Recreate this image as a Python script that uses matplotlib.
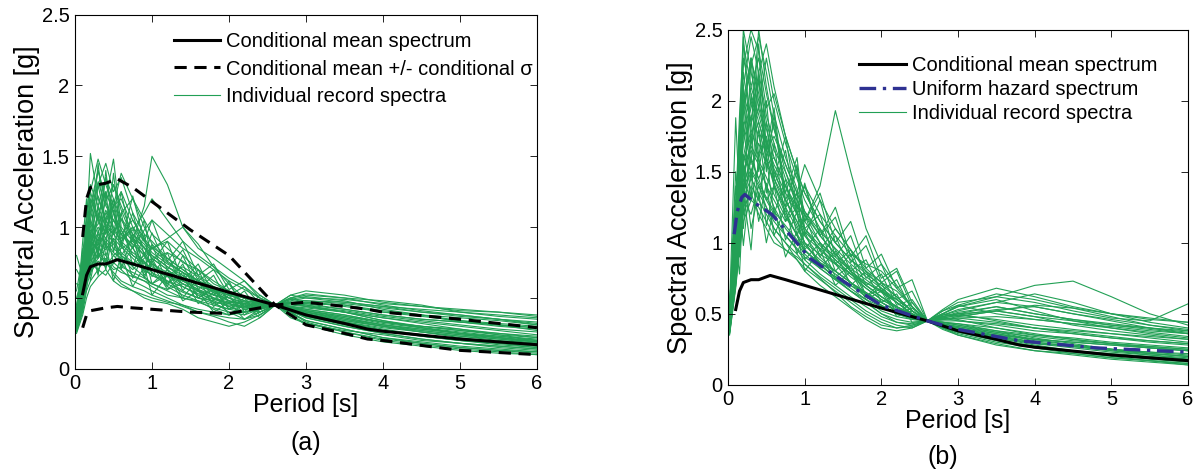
import numpy as np
import matplotlib.pyplot as plt

plt.rcParams['font.family'] = ['Liberation Sans', 'DejaVu Sans']

# %% Data

# conditional mean spectrum and +/- sigma (same target in both panels)
T_cms = [0.1, 0.15, 0.2, 0.3, 0.4, 0.55, 0.75, 1.0, 1.5, 2.0, 2.6, 3.0, 3.5, 3.8, 4.0, 5.0, 6.0]
cms = [0.53, 0.66, 0.72, 0.74, 0.74, 0.77, 0.74, 0.70, 0.62, 0.54, 0.45, 0.38, 0.32, 0.28, 0.265, 0.21, 0.17]
cms_plus = [0.93, 1.20, 1.28, 1.30, 1.31, 1.34, 1.28, 1.18, 0.98, 0.80, 0.45, 0.47, 0.44, 0.42, 0.40, 0.35, 0.29]
cms_minus = [0.29, 0.38, 0.41, 0.42, 0.43, 0.44, 0.43, 0.42, 0.40, 0.39, 0.45, 0.31, 0.25, 0.21, 0.20, 0.13, 0.10]

# uniform hazard spectrum (panel b)
T_uhs = [0.08, 0.12, 0.18, 0.22, 0.35, 0.57, 0.8, 1.07, 1.5, 2.0, 2.6, 3.0, 3.8, 4.8, 6.0]
uhs = [1.06, 1.22, 1.32, 1.34, 1.28, 1.20, 1.06, 0.89, 0.73, 0.56, 0.45, 0.39, 0.31, 0.26, 0.23]

# periods at which the record spectra were read
T_rec = [0.02, 0.1, 0.15, 0.2, 0.3, 0.4, 0.5, 0.6, 0.75, 0.9, 1.0, 1.2, 1.4, 1.6,
         1.8, 2.0, 2.2, 2.4, 2.6, 2.8, 3.0, 3.5, 4.0, 4.5, 5.0, 5.5, 6.0]

rec_a = [
    [0.30,0.52,0.70,0.85,1.10,0.95,1.20,0.98,0.80,0.75,0.68,0.62,0.55,0.50,0.48,0.44,0.40,0.43,0.45,0.42,0.38,0.33,0.28,0.24,0.20,0.18,0.15],
    [0.35,0.60,0.95,1.25,1.05,1.35,1.10,0.90,1.00,0.85,0.78,0.70,0.60,0.55,0.50,0.47,0.46,0.44,0.45,0.47,0.46,0.42,0.38,0.35,0.33,0.30,0.28],
    [0.28,0.45,0.62,0.70,0.78,0.92,0.85,0.80,0.72,0.65,0.60,0.55,0.50,0.48,0.42,0.38,0.40,0.42,0.45,0.40,0.34,0.28,0.22,0.18,0.15,0.13,0.11],
    [0.40,0.70,1.00,1.52,1.20,1.05,1.30,1.15,0.95,0.88,0.80,0.72,0.66,0.58,0.52,0.50,0.47,0.46,0.45,0.44,0.42,0.38,0.33,0.30,0.28,0.25,0.22],
    [0.32,0.55,0.75,0.90,0.85,1.00,0.95,1.10,1.20,1.05,0.95,0.85,0.75,0.70,0.62,0.55,0.50,0.48,0.45,0.46,0.44,0.40,0.36,0.32,0.28,0.24,0.20],
    [0.26,0.40,0.55,0.62,0.70,0.66,0.75,0.70,0.62,0.58,0.55,0.50,0.45,0.40,0.38,0.36,0.35,0.40,0.45,0.48,0.50,0.47,0.44,0.40,0.37,0.35,0.33],
    [0.38,0.65,0.88,1.05,1.30,1.45,1.25,1.35,1.10,0.95,0.90,0.78,0.70,0.62,0.56,0.52,0.48,0.47,0.45,0.41,0.36,0.30,0.25,0.21,0.18,0.15,0.13],
    [0.30,0.50,0.70,0.78,0.95,0.88,0.80,0.85,0.90,1.15,1.50,1.30,1.00,0.85,0.78,0.70,0.62,0.52,0.45,0.43,0.40,0.35,0.31,0.28,0.25,0.22,0.19],
    [0.33,0.58,0.80,0.95,1.15,1.00,0.90,0.82,0.75,0.70,0.66,0.62,0.58,0.52,0.47,0.45,0.43,0.44,0.45,0.46,0.47,0.45,0.41,0.38,0.36,0.34,0.31],
    [0.27,0.42,0.60,0.72,0.80,0.75,0.68,0.62,0.58,0.55,0.52,0.48,0.44,0.40,0.37,0.33,0.30,0.36,0.45,0.50,0.52,0.50,0.48,0.45,0.40,0.37,0.35],
    [0.36,0.62,0.92,1.10,1.40,1.20,1.48,1.00,0.90,0.80,0.72,0.66,0.60,0.55,0.50,0.46,0.44,0.45,0.45,0.40,0.33,0.26,0.20,0.17,0.14,0.12,0.10],
    [0.31,0.50,0.68,0.82,0.90,1.10,1.05,0.95,1.05,0.92,0.85,0.90,0.80,0.70,0.60,0.55,0.50,0.48,0.45,0.43,0.41,0.37,0.32,0.29,0.26,0.23,0.20],
    [0.29,0.48,0.66,0.75,0.85,0.80,0.72,0.68,0.65,0.62,0.60,0.66,0.72,0.65,0.55,0.48,0.42,0.40,0.45,0.44,0.40,0.34,0.30,0.26,0.22,0.19,0.16],
    [0.42,0.80,1.10,1.30,1.15,1.35,1.20,1.05,0.92,0.86,0.78,0.70,0.62,0.56,0.50,0.44,0.40,0.42,0.45,0.47,0.45,0.40,0.34,0.29,0.25,0.22,0.19],
    [0.34,0.56,0.78,0.88,1.00,0.92,1.05,0.95,0.85,0.98,1.05,0.95,0.85,0.78,0.70,0.62,0.56,0.50,0.45,0.40,0.37,0.32,0.27,0.24,0.21,0.19,0.17],
    [0.25,0.38,0.50,0.58,0.65,0.70,0.62,0.58,0.55,0.50,0.48,0.46,0.42,0.36,0.33,0.30,0.33,0.38,0.45,0.52,0.55,0.52,0.47,0.44,0.42,0.40,0.37],
    [0.37,0.66,0.90,1.20,1.05,0.95,1.15,1.25,1.05,0.90,0.85,0.75,0.68,0.60,0.55,0.50,0.46,0.45,0.45,0.43,0.39,0.33,0.27,0.23,0.20,0.17,0.15],
    [0.30,0.48,0.70,0.85,0.78,0.90,0.82,0.78,0.70,0.78,0.85,0.92,1.00,0.88,0.72,0.60,0.50,0.46,0.45,0.42,0.38,0.32,0.27,0.24,0.21,0.19,0.17],
    [0.33,0.55,0.76,0.92,1.08,1.25,1.10,0.98,0.85,0.75,0.68,0.58,0.52,0.48,0.45,0.42,0.44,0.47,0.45,0.44,0.43,0.40,0.36,0.33,0.30,0.27,0.24],
    [0.28,0.44,0.64,0.74,0.70,0.78,0.66,0.60,0.55,0.52,0.50,0.47,0.45,0.42,0.40,0.38,0.42,0.44,0.45,0.43,0.40,0.36,0.31,0.28,0.25,0.22,0.19],
    [0.39,0.70,0.95,1.15,1.40,1.18,1.00,0.90,0.82,0.76,0.70,0.65,0.62,0.58,0.55,0.52,0.50,0.47,0.45,0.38,0.32,0.26,0.21,0.18,0.15,0.13,0.12],
    [0.31,0.52,0.72,0.80,0.92,1.02,0.95,0.88,0.80,0.74,0.78,0.82,0.76,0.66,0.58,0.50,0.44,0.43,0.45,0.49,0.51,0.48,0.42,0.38,0.34,0.31,0.29],
    [0.35,0.60,0.85,0.98,0.90,1.05,1.15,1.38,1.20,1.00,0.88,0.76,0.68,0.62,0.58,0.54,0.50,0.47,0.45,0.42,0.39,0.34,0.30,0.27,0.24,0.21,0.18],
    [0.27,0.42,0.58,0.68,0.76,0.72,0.80,0.74,0.66,0.62,0.58,0.52,0.50,0.47,0.43,0.40,0.38,0.42,0.45,0.47,0.48,0.46,0.43,0.40,0.38,0.35,0.32],
    [0.36,0.62,0.82,1.00,1.22,1.05,0.96,1.06,0.95,0.85,0.80,0.72,0.64,0.60,0.54,0.48,0.45,0.44,0.45,0.45,0.44,0.41,0.37,0.34,0.31,0.28,0.26],
    [0.30,0.50,0.68,0.80,0.88,0.84,0.92,0.86,0.78,0.70,0.66,0.60,0.54,0.50,0.46,0.42,0.40,0.42,0.45,0.41,0.36,0.30,0.25,0.21,0.18,0.16,0.14],
    [0.40,0.74,1.05,1.25,1.48,1.30,1.15,1.20,1.00,0.90,0.82,0.74,0.68,0.62,0.57,0.53,0.50,0.48,0.45,0.44,0.42,0.38,0.33,0.29,0.25,0.23,0.21],
    [0.32,0.54,0.74,0.86,0.96,1.12,0.98,0.90,0.98,1.10,1.20,1.05,0.90,0.80,0.72,0.64,0.58,0.50,0.45,0.43,0.41,0.37,0.33,0.30,0.27,0.25,0.23],
    [0.29,0.46,0.64,0.72,0.82,0.76,0.70,0.72,0.68,0.64,0.60,0.56,0.60,0.55,0.47,0.40,0.35,0.38,0.45,0.50,0.53,0.50,0.45,0.41,0.38,0.35,0.31],
    [0.34,0.58,0.80,0.96,1.02,1.18,1.30,1.12,0.92,0.82,0.74,0.66,0.58,0.53,0.49,0.46,0.43,0.44,0.45,0.39,0.34,0.28,0.22,0.19,0.16,0.14,0.12],
    [0.31,0.50,0.72,0.90,0.84,0.98,0.88,0.80,0.74,0.80,0.86,0.78,0.70,0.62,0.56,0.52,0.48,0.46,0.45,0.46,0.47,0.44,0.40,0.37,0.34,0.32,0.30],
    [0.37,0.64,0.86,1.10,1.32,1.15,1.05,0.95,0.88,0.80,0.74,0.68,0.62,0.56,0.52,0.48,0.46,0.45,0.45,0.42,0.40,0.35,0.30,0.26,0.23,0.20,0.18],
    [0.55,0.80,0.62,1.05,0.78,1.25,0.82,1.10,0.72,0.95,0.65,0.82,0.55,0.70,0.48,0.62,0.40,0.52,0.45,0.50,0.46,0.45,0.40,0.38,0.33,0.31,0.27],
    [0.80,0.65,0.90,0.70,1.15,0.85,1.38,0.92,1.00,0.70,0.88,0.60,0.74,0.50,0.58,0.42,0.50,0.38,0.45,0.36,0.32,0.27,0.24,0.20,0.18,0.16,0.14],
    [0.45,0.72,0.58,0.95,0.68,0.88,0.62,0.80,0.58,0.72,0.52,0.66,0.48,0.55,0.40,0.47,0.35,0.42,0.45,0.49,0.48,0.47,0.44,0.42,0.40,0.38,0.36],
    [0.38,0.90,1.20,0.85,1.45,0.98,1.15,0.88,1.22,0.90,1.05,0.76,0.90,0.66,0.74,0.56,0.62,0.50,0.45,0.38,0.31,0.24,0.19,0.16,0.13,0.11,0.10],
    [0.60,0.58,0.82,0.62,0.90,0.70,0.98,0.72,0.86,0.66,0.74,0.56,0.66,0.46,0.54,0.38,0.46,0.36,0.45,0.52,0.50,0.49,0.46,0.44,0.41,0.40,0.38],
    [0.33,0.85,0.65,1.18,0.80,1.40,0.95,1.25,0.85,1.05,0.75,0.90,0.62,0.74,0.52,0.60,0.44,0.48,0.45,0.41,0.37,0.31,0.27,0.23,0.20,0.18,0.16],
    [0.50,0.66,0.95,0.76,1.08,0.80,0.92,0.70,0.95,0.64,0.78,0.58,0.80,0.56,0.66,0.46,0.55,0.40,0.45,0.44,0.41,0.36,0.31,0.27,0.24,0.22,0.20],
    [0.42,0.76,0.56,0.88,0.66,1.02,0.74,0.90,0.64,0.82,0.60,0.70,0.50,0.64,0.44,0.52,0.38,0.46,0.45,0.47,0.44,0.40,0.34,0.30,0.27,0.24,0.22],
    [0.70,0.62,1.00,0.80,1.30,1.02,1.20,0.86,1.10,0.80,0.96,0.70,0.84,0.62,0.70,0.52,0.58,0.46,0.45,0.42,0.38,0.33,0.29,0.26,0.23,0.21,0.19],
    [0.36,0.70,0.88,0.66,0.98,0.74,1.12,0.80,0.92,0.68,0.76,0.60,0.68,0.50,0.56,0.42,0.48,0.40,0.45,0.46,0.45,0.42,0.38,0.35,0.33,0.31,0.29],
]

rec_b = [
    [0.40,0.85,1.40,1.90,2.30,2.00,1.70,1.50,1.30,1.15,1.00,0.85,0.75,0.68,0.60,0.52,0.48,0.46,0.45,0.42,0.38,0.32,0.27,0.24,0.21,0.19,0.17],
    [0.45,1.00,1.60,2.20,1.80,2.50,2.10,1.80,1.50,1.25,1.10,0.95,0.85,0.72,0.62,0.55,0.50,0.47,0.45,0.48,0.50,0.52,0.48,0.42,0.38,0.35,0.32],
    [0.38,0.75,1.10,1.40,1.60,1.45,1.30,1.20,1.05,0.95,0.88,0.78,0.70,0.62,0.55,0.48,0.44,0.43,0.45,0.47,0.49,0.53,0.55,0.50,0.45,0.40,0.36],
    [0.50,1.20,1.80,2.50,2.20,1.95,2.30,2.00,1.70,1.45,1.30,1.10,0.95,0.80,0.70,0.62,0.55,0.49,0.45,0.40,0.36,0.30,0.26,0.23,0.20,0.17,0.15],
    [0.42,0.90,1.30,1.60,1.90,1.75,1.55,1.60,1.40,1.20,1.05,0.90,0.80,0.72,0.65,0.58,0.52,0.48,0.45,0.50,0.55,0.60,0.52,0.45,0.40,0.36,0.33],
    [0.36,0.70,1.00,1.25,1.35,1.20,1.10,1.00,0.95,0.90,0.85,0.75,0.65,0.55,0.48,0.42,0.40,0.42,0.45,0.47,0.46,0.40,0.35,0.32,0.29,0.26,0.24],
    [0.48,1.10,1.70,2.10,2.45,2.20,1.90,1.70,1.45,1.30,1.15,1.40,1.93,1.50,1.10,0.85,0.70,0.55,0.45,0.42,0.40,0.35,0.30,0.27,0.24,0.21,0.18],
    [0.40,0.80,1.20,1.50,1.70,1.85,1.65,1.45,1.25,1.35,1.55,1.30,1.10,0.95,0.82,0.72,0.62,0.52,0.45,0.44,0.43,0.38,0.33,0.29,0.25,0.22,0.20],
    [0.44,0.95,1.50,1.75,2.00,1.80,1.60,1.40,1.20,1.05,0.95,0.85,0.75,0.66,0.58,0.50,0.46,0.44,0.45,0.52,0.58,0.62,0.70,0.73,0.62,0.50,0.42],
    [0.37,0.72,1.05,1.30,1.20,1.40,1.25,1.10,1.00,0.88,0.80,0.70,0.62,0.54,0.46,0.40,0.38,0.40,0.45,0.43,0.40,0.33,0.28,0.24,0.21,0.18,0.16],
    [0.52,1.25,1.90,2.40,2.10,2.30,1.95,2.05,1.75,1.50,1.35,1.15,1.00,0.88,0.80,0.72,0.66,0.55,0.45,0.40,0.37,0.32,0.27,0.24,0.22,0.20,0.18],
    [0.41,0.85,1.25,1.55,1.80,1.60,1.75,1.50,1.30,1.12,1.00,0.92,0.85,0.78,0.70,0.62,0.55,0.50,0.45,0.48,0.51,0.55,0.50,0.46,0.43,0.40,0.38],
    [0.39,0.78,1.15,1.45,1.30,1.55,1.40,1.25,1.10,1.00,0.92,0.82,0.74,0.66,0.60,0.55,0.50,0.46,0.45,0.46,0.47,0.48,0.46,0.43,0.40,0.37,0.34],
    [0.46,1.05,1.60,2.00,2.30,2.05,1.80,1.60,1.40,1.25,1.20,1.05,0.92,0.80,0.70,0.62,0.55,0.48,0.45,0.44,0.42,0.38,0.35,0.33,0.30,0.28,0.26],
    [0.35,0.68,0.95,1.15,1.30,1.25,1.15,1.05,0.95,0.88,0.82,0.74,0.66,0.58,0.50,0.44,0.40,0.41,0.45,0.50,0.55,0.62,0.58,0.52,0.47,0.45,0.57],
    [0.43,0.92,1.40,1.70,1.95,2.15,1.85,1.65,1.50,1.30,1.15,1.00,0.90,0.80,0.72,0.65,0.58,0.50,0.45,0.42,0.40,0.36,0.31,0.28,0.25,0.22,0.20],
    [0.38,0.76,1.10,1.35,1.50,1.40,1.30,1.40,1.25,1.10,1.00,0.86,0.78,0.70,0.62,0.56,0.50,0.47,0.45,0.43,0.41,0.36,0.32,0.30,0.28,0.26,0.24],
    [0.47,1.08,1.65,2.05,1.85,2.20,2.40,2.10,1.75,1.50,1.35,1.15,1.00,0.88,0.78,0.70,0.62,0.52,0.45,0.39,0.35,0.28,0.24,0.22,0.19,0.17,0.15],
    [0.40,0.82,1.20,1.48,1.65,1.55,1.40,1.30,1.15,1.25,1.40,1.20,1.05,0.92,0.85,0.80,0.68,0.55,0.45,0.46,0.48,0.52,0.56,0.54,0.50,0.46,0.44],
    [0.36,0.70,1.00,1.20,1.40,1.30,1.20,1.10,1.00,0.92,0.85,0.76,0.68,0.60,0.52,0.46,0.42,0.40,0.45,0.48,0.50,0.45,0.40,0.36,0.33,0.30,0.28],
    [0.50,1.15,1.75,2.25,2.50,2.35,2.05,1.80,1.55,1.35,1.20,1.00,0.88,0.78,0.72,0.66,0.60,0.52,0.45,0.43,0.41,0.37,0.34,0.31,0.29,0.27,0.25],
    [0.42,0.88,1.30,1.62,1.50,1.70,1.55,1.45,1.30,1.15,1.05,0.95,1.10,0.95,0.80,0.68,0.58,0.50,0.45,0.47,0.49,0.46,0.42,0.39,0.36,0.33,0.30],
    [0.39,0.80,1.18,1.40,1.58,1.45,1.60,1.42,1.22,1.05,0.95,0.84,0.76,0.70,0.64,0.58,0.52,0.47,0.45,0.41,0.37,0.31,0.26,0.22,0.19,0.17,0.14],
    [0.44,0.96,1.45,1.80,2.10,1.90,1.70,1.55,1.40,1.22,1.10,0.98,0.88,0.78,0.68,0.60,0.54,0.49,0.45,0.50,0.56,0.64,0.60,0.54,0.48,0.42,0.38],
    [0.37,0.74,1.08,1.32,1.45,1.35,1.25,1.15,1.05,0.96,0.90,0.82,0.74,0.66,0.58,0.50,0.44,0.42,0.45,0.44,0.42,0.37,0.32,0.28,0.25,0.23,0.21],
    [0.41,0.86,1.28,1.58,1.75,1.95,1.72,1.52,1.35,1.20,1.08,0.96,0.86,0.76,0.68,0.60,0.55,0.50,0.45,0.46,0.47,0.44,0.40,0.37,0.34,0.31,0.29],
    [0.45,1.00,1.55,1.95,2.25,2.45,2.20,1.90,1.60,1.38,1.22,1.05,0.92,0.82,0.74,0.66,0.58,0.50,0.45,0.43,0.40,0.34,0.29,0.26,0.23,0.21,0.19],
    [0.38,0.78,1.12,1.38,1.52,1.42,1.32,1.22,1.12,1.02,0.94,0.86,0.80,0.72,0.65,0.58,0.52,0.48,0.45,0.49,0.53,0.58,0.55,0.50,0.46,0.42,0.39],
    [0.48,1.10,1.70,2.30,2.05,1.85,1.65,1.75,1.55,1.35,1.22,1.08,0.96,0.85,0.76,0.68,0.60,0.52,0.45,0.41,0.38,0.33,0.29,0.27,0.25,0.23,0.22],
    [0.40,0.84,1.22,1.50,1.68,1.58,1.46,1.34,1.18,1.06,0.98,0.88,0.80,0.72,0.64,0.56,0.50,0.47,0.45,0.45,0.45,0.43,0.40,0.38,0.36,0.34,0.32],
    [0.55,1.30,0.95,1.85,1.30,2.20,1.50,1.90,1.25,1.55,1.05,1.30,0.90,1.05,0.75,0.85,0.60,0.66,0.45,0.50,0.48,0.52,0.48,0.45,0.42,0.39,0.36],
    [0.55,1.88,1.30,2.10,1.55,2.40,1.65,1.95,1.30,1.50,1.10,1.20,0.85,0.95,0.70,0.78,0.56,0.60,0.45,0.42,0.39,0.34,0.30,0.27,0.24,0.22,0.20],
    [0.60,1.05,1.45,1.10,1.75,1.30,1.60,1.20,1.45,1.05,1.20,0.90,1.05,0.80,0.88,0.66,0.74,0.52,0.45,0.53,0.60,0.68,0.62,0.55,0.50,0.47,0.44],
    [0.42,1.40,1.10,2.00,1.45,1.80,1.35,1.70,1.15,1.35,0.95,1.10,0.80,0.92,0.62,0.72,0.50,0.58,0.45,0.40,0.35,0.29,0.24,0.21,0.18,0.16,0.14],
    [0.58,0.95,1.60,1.20,2.30,1.60,2.00,1.45,1.75,1.25,1.40,1.05,1.25,0.90,1.05,0.75,0.82,0.58,0.45,0.49,0.52,0.58,0.64,0.58,0.50,0.44,0.40],
    [0.48,1.15,0.90,1.55,1.10,1.35,1.00,1.25,0.90,1.08,0.80,0.95,0.70,0.80,0.60,0.66,0.48,0.52,0.45,0.47,0.45,0.42,0.38,0.36,0.33,0.31,0.29],
    [0.52,1.50,1.20,2.45,1.70,2.15,1.60,1.85,1.35,1.60,1.15,1.35,1.00,1.15,0.82,0.92,0.68,0.74,0.45,0.44,0.43,0.40,0.36,0.32,0.29,0.27,0.25],
    [0.50,0.90,1.30,0.98,1.50,1.15,1.42,1.05,1.25,0.92,1.08,0.82,0.94,0.70,0.80,0.58,0.64,0.44,0.45,0.52,0.56,0.50,0.46,0.43,0.41,0.38,0.36],
    [0.46,1.25,1.75,1.35,2.05,1.50,1.85,1.40,1.65,1.20,1.42,1.05,1.18,0.86,0.98,0.72,0.80,0.55,0.45,0.41,0.38,0.35,0.32,0.30,0.28,0.26,0.24],
    [0.40,1.00,0.78,1.35,0.95,1.62,1.12,1.40,1.02,1.22,0.88,1.00,0.76,0.84,0.62,0.68,0.50,0.54,0.45,0.48,0.50,0.55,0.50,0.46,0.42,0.40,0.37],
]

green = '#22a055'
navy = '#2e3192'
yticks = [0, 0.5, 1, 1.5, 2, 2.5]
yticklabels = ['0', '0.5', '1', '1.5', '2', '2.5']


def style_axes(ax):
    ax.set_xlim(0, 6)
    ax.set_ylim(0, 2.5)
    ax.set_xticks(range(7))
    ax.set_yticks(yticks)
    ax.set_yticklabels(yticklabels)
    ax.tick_params(direction='in', top=True, right=True, labelsize=14.5, length=5, width=0.6, pad=4)
    for s in ax.spines.values():
        s.set_linewidth(0.8)
    ax.set_xlabel('Period [s]', fontsize=18, labelpad=0)
    ax.set_ylabel('Spectral Acceleration [g]', fontsize=19.5, labelpad=1)


fig = plt.figure(figsize=(11.98, 4.71), dpi=100)
ax_a = fig.add_axes([0.0626, 0.217, 0.3856, 0.752])
ax_b = fig.add_axes([0.6077, 0.183, 0.384, 0.754])

# %% panel (a)
for i, r in enumerate(rec_a):
    ax_a.plot(T_rec, r, color=green, linewidth=0.8,
              label='Individual record spectra' if i == 0 else None, zorder=1)
l1, = ax_a.plot(T_cms, cms, 'k-', linewidth=2.2, label='Conditional mean spectrum', zorder=3)
l2, = ax_a.plot(T_cms, cms_plus, 'k--', linewidth=2.2, dashes=(4, 2.5),
                label='Conditional mean +/- conditional σ', zorder=3)
ax_a.plot(T_cms, cms_minus, 'k--', linewidth=2.2, dashes=(4, 2.5), zorder=3)
style_axes(ax_a)
h, lab = ax_a.get_legend_handles_labels()
ax_a.legend([l1, l2, h[0]], [lab[1], lab[2], lab[0]], loc='upper right', frameon=False,
            fontsize=14.5, handlelength=2.3, handletextpad=0.3, labelspacing=0.4,
            borderaxespad=0.4, bbox_to_anchor=(1.026, 0.995))

# %% panel (b)
for i, r in enumerate(rec_b):
    ax_b.plot(T_rec, r, color=green, linewidth=0.8,
              label='Individual record spectra' if i == 0 else None, zorder=1)
m1, = ax_b.plot(T_cms, cms, 'k-', linewidth=2.2, label='Conditional mean spectrum', zorder=3)
m2, = ax_b.plot(T_uhs, uhs, '-.', color=navy, linewidth=2.4, dashes=(5, 2, 1, 2),
                label='Uniform hazard spectrum', zorder=3)
style_axes(ax_b)
h, lab = ax_b.get_legend_handles_labels()
ax_b.legend([m1, m2, h[0]], [lab[1], lab[2], lab[0]], loc='upper right', frameon=False,
            fontsize=14.5, handlelength=2.3, handletextpad=0.3, labelspacing=0.25,
            borderaxespad=0.4, bbox_to_anchor=(0.968, 0.972))

fig.text(0.2555, 0.035, '(a)', ha='center', va='bottom', fontsize=18)
fig.text(0.787, 0.004, '(b)', ha='center', va='bottom', fontsize=18)

fig.savefig('out.png', dpi=100)
